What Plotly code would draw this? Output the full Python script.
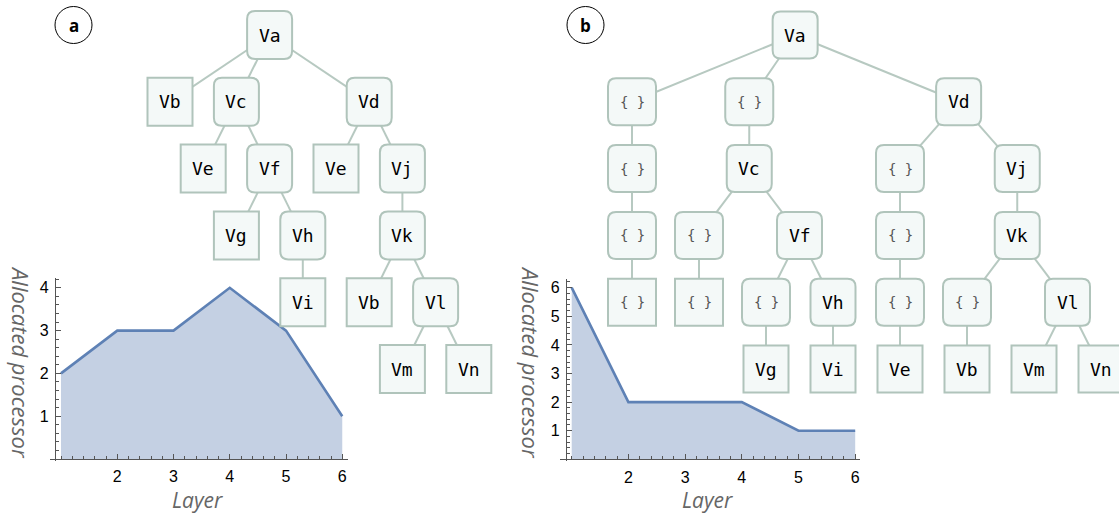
import plotly.graph_objects as go

# ---------------- data ----------------
layers = [1, 2, 3, 4, 5, 6]
proc_a = [2, 3, 3, 4, 3, 1]
proc_b = [6, 2, 2, 2, 1, 1]
x_ticks = [2, 3, 4, 5, 6]
y_ticks_a = [1, 2, 3, 4]
y_ticks_b = [1, 2, 3, 4, 5, 6]

tree_a_labels = ["Va", "Vb", "Vc", "Ve", "Vf", "Vg", "Vh", "Vi",
                 "Vd", "Ve", "Vj", "Vk", "Vb", "Vl", "Vm", "Vn"]
tree_a_parent = [-1, 0, 0, 2, 2, 4, 4, 6, 0, 8, 8, 10, 11, 11, 13, 13]

tree_b_labels = ["Va", "{ }", "{ }", "{ }", "{ }", "{ }", "Vc", "{ }", "{ }",
                 "Vf", "{ }", "Vg", "Vh", "Vi", "Vd", "{ }", "{ }", "{ }",
                 "Ve", "Vj", "Vk", "{ }", "Vb", "Vl", "Vm", "Vn"]
tree_b_parent = [-1, 0, 1, 2, 3, 0, 5, 6, 7, 6, 9, 10, 9, 12, 0, 14, 15, 16,
                 17, 14, 19, 20, 21, 20, 23, 23]

# tree layout: horizontal slot of each node (levels come from depth)
tree_a_slot = [3, 0, 2, 1, 3, 2, 4, 4, 6, 5, 7, 7, 6, 8, 7, 9]
tree_b_slot = [4.87, 0, 0, 0, 0, 3.5, 3.5, 2, 2, 5, 4, 4, 6, 6, 9.75, 8, 8, 8,
               8, 11.5, 11.5, 10, 10, 13, 12, 14]

# ---------------- styles / geometry ----------------
W, H = 1119, 513
EDGE = "#b7c9c1"
BORDER = "#b0c4bb"
FILL = "#f4f9f8"
AXIS = "#555555"
LINE = "#5e81b5"
AREA = "rgba(196,208,227,1)"

TREE_A = dict(x0=170, dx=33.2, y0=35, dy=66.8, w=45, wb=45, h=48, xa="x3", ya="y3")
TREE_B = dict(x0=632, dx=33.5, y0=35, dy=66.8, w=45, wb=48, h=47, xa="x4", ya="y4")

fig = go.Figure()
shapes = []
annotations = []


def depths(parent):
    d = []
    for i in range(len(parent)):
        k, p = 0, parent[i]
        while p >= 0:
            k += 1
            p = parent[p]
        d.append(k)
    return d


def rounded_path(x0, x1, y0, y1, rx, ry):
    return (f"M {x0+rx},{y0} L {x1-rx},{y0} Q {x1},{y0} {x1},{y0+ry} "
            f"L {x1},{y1-ry} Q {x1},{y1} {x1-rx},{y1} L {x0+rx},{y1} "
            f"Q {x0},{y1} {x0},{y1-ry} L {x0},{y0+ry} Q {x0},{y0} {x0+rx},{y0} Z")


def add_tree(labels, parent, slot, cfg, axis_idx):
    level = depths(parent)
    xs, ys = [], []
    for i, p in enumerate(parent):
        if p >= 0:
            xs += [slot[p], slot[i], None]
            ys += [level[p], level[i], None]
    fig.add_trace(go.Scatter(x=xs, y=ys, mode="lines",
                             line=dict(color=EDGE, width=2),
                             xaxis=cfg["xa"], yaxis=cfg["ya"],
                             hoverinfo="skip", showlegend=False))
    for i, lab in enumerate(labels):
        leaf = i not in parent
        wpx = cfg["wb"] if "{" in lab else cfg["w"]
        hw = wpx / 2 / cfg["dx"]
        hh = cfg["h"] / 2 / cfg["dy"]
        x0, x1 = slot[i] - hw, slot[i] + hw
        y0, y1 = level[i] - hh, level[i] + hh
        if leaf:
            shapes.append(dict(type="rect", xref=cfg["xa"], yref=cfg["ya"],
                               x0=x0, x1=x1, y0=y0, y1=y1, layer="above",
                               line=dict(color=BORDER, width=2), fillcolor=FILL))
        else:
            shapes.append(dict(type="path", xref=cfg["xa"], yref=cfg["ya"],
                               path=rounded_path(x0, x1, y0, y1,
                                                 8 / cfg["dx"], 8 / cfg["dy"]),
                               layer="above",
                               line=dict(color=BORDER, width=2), fillcolor=FILL))
        if "{" in lab:
            font = dict(family="DejaVu Sans Mono", size=14, color="#555555")
        else:
            font = dict(family="DejaVu Sans Mono", size=18, color="black")
        annotations.append(dict(x=slot[i], y=level[i], xref=cfg["xa"], yref=cfg["ya"],
                                text=lab, showarrow=False, font=font,
                                xanchor="center", yanchor="middle"))
    fig.update_layout(**{
        f"xaxis{axis_idx}": dict(domain=[0, 1], range=[-cfg["x0"] / cfg["dx"], (W - cfg["x0"]) / cfg["dx"]],
                                 visible=False, fixedrange=True),
        f"yaxis{axis_idx}": dict(domain=[0, 1], range=[(H - cfg["y0"]) / cfg["dy"], -cfg["y0"] / cfg["dy"]],
                                 visible=False, fixedrange=True),
    })


# ---------------- area charts ----------------
def add_area(vals, xa, ya):
    fig.add_trace(go.Scatter(x=layers, y=vals, mode="lines", fill="tozeroy",
                             fillcolor=AREA, line=dict(color=LINE, width=2.6),
                             xaxis=xa, yaxis=ya, hoverinfo="skip", showlegend=False))


add_area(proc_a, "x", "y")
add_area(proc_b, "x2", "y2")

tickfont = dict(family="Liberation Sans", size=16, color="black")


def xaxis_cfg(px_left, px_right, px_one, px_unit, px_zero_y):
    return dict(domain=[px_left / W, px_right / W],
                range=[1 + (px_left - px_one) / px_unit, 1 + (px_right - px_one) / px_unit],
                anchor="free", position=1 - px_zero_y / H,
                tickmode="array", tickvals=x_ticks, ticks="inside", ticklen=5,
                tickcolor=AXIS, showline=True, linecolor=AXIS, linewidth=1.2,
                showgrid=False, zeroline=False, tickfont=tickfont,
                ticklabelstandoff=3,
                minor=dict(tickmode="linear", tick0=0, dtick=0.2, ticks="inside",
                           ticklen=3, tickcolor=AXIS),
                fixedrange=True)


def yaxis_cfg(px_bottom, px_top, px_zero, px_unit, px_axis_x, ticks):
    return dict(domain=[1 - px_bottom / H, 1 - px_top / H],
                range=[(px_zero - px_bottom) / px_unit, (px_zero - px_top) / px_unit],
                anchor="free", position=px_axis_x / W,
                tickmode="array", tickvals=ticks, ticks="inside", ticklen=5,
                tickcolor=AXIS, showline=True, linecolor=AXIS, linewidth=1.2,
                showgrid=False, zeroline=False, tickfont=tickfont,
                ticklabelstandoff=3,
                minor=dict(tickmode="linear", tick0=0, dtick=0.2, ticks="inside",
                           ticklen=3, tickcolor=AXIS),
                fixedrange=True)


fig.update_layout(
    xaxis=xaxis_cfg(50, 348, 61.0, 56.25, 459),
    yaxis=yaxis_cfg(461, 278, 459, 42.8, 55, y_ticks_a),
    xaxis2=xaxis_cfg(560, 860, 571.7, 56.7, 459.3),
    yaxis2=yaxis_cfg(461, 279, 459.3, 28.6, 566, y_ticks_b),
)

add_tree(tree_a_labels, tree_a_parent, tree_a_slot, TREE_A, 3)
add_tree(tree_b_labels, tree_b_parent, tree_b_slot, TREE_B, 4)

# axis titles
title_font = dict(family="Open Sans", size=21, color="#666666")
for cx, cy in [(197, 500), (707, 500)]:
    annotations.append(dict(x=cx / W, y=1 - cy / H, xref="paper", yref="paper",
                            text="<i>Layer</i>", showarrow=False, font=title_font,
                            xanchor="center", yanchor="middle"))
for cx, cy in [(21, 362), (531, 362)]:
    annotations.append(dict(x=cx / W, y=1 - cy / H, xref="paper", yref="paper",
                            text="<i>Allocated processor</i>", showarrow=False,
                            font=dict(family="Open Sans", size=22, color="#666666"),
                            textangle=90, xanchor="center", yanchor="middle"))

# panel labels
for lab, cx, cy in [("a", 73.5, 25), ("b", 585.5, 25)]:
    r = 18.5
    shapes.append(dict(type="circle", xref="paper", yref="paper",
                       x0=(cx - r) / W, x1=(cx + r) / W,
                       y0=1 - (cy + r) / H, y1=1 - (cy - r) / H,
                       line=dict(color="black", width=1), fillcolor="white", layer="above"))
    annotations.append(dict(x=cx / W, y=1 - cy / H, xref="paper", yref="paper",
                            text=f"<b>{lab}</b>", showarrow=False,
                            font=dict(family="Open Sans", size=17, color="black"),
                            xanchor="center", yanchor="middle"))

fig.update_layout(width=W, height=H, margin=dict(l=0, r=0, t=0, b=0),
                  paper_bgcolor="white", plot_bgcolor="rgba(0,0,0,0)",
                  showlegend=False, shapes=shapes, annotations=annotations)

fig.write_html("out.html", config={"displayModeBar": False},
               post_script="document.body.style.margin='0px';"
                           "document.body.style.overflow='hidden';")
